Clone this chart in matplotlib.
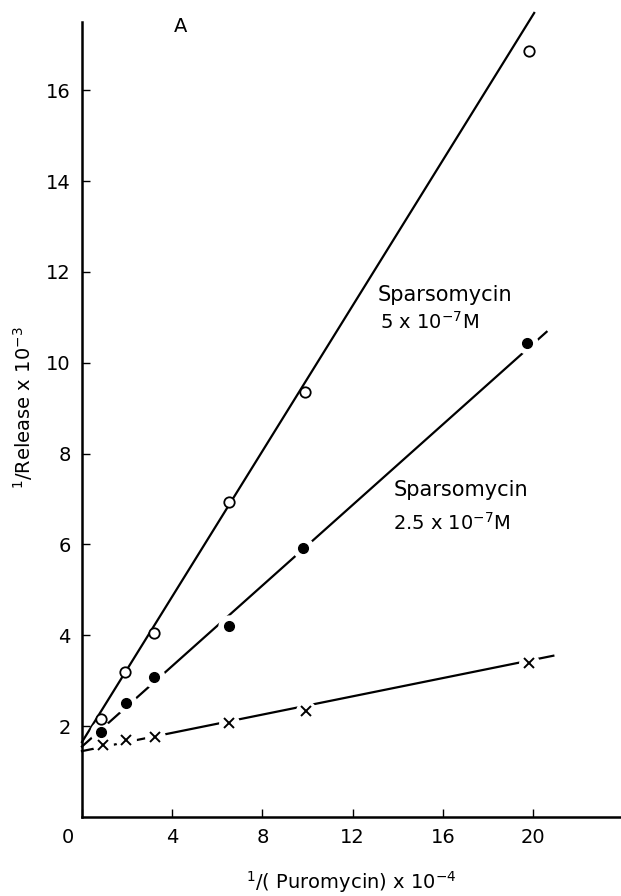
import matplotlib.pyplot as plt
import matplotlib.transforms as mtransforms
import numpy as np

# data (1/puromycin x 1e-4, 1/release x 1e-3)
x_open = [0.85, 1.9, 3.2, 6.5, 9.9, 19.8]
y_open = [2.15, 3.2, 4.05, 6.94, 9.36, 16.87]
x_filled = [0.85, 1.95, 3.2, 6.5, 9.8, 19.75]
y_filled = [1.88, 2.5, 3.08, 4.2, 5.92, 10.44]
x_cross = [0.93, 1.95, 3.24, 6.5, 9.95, 19.8]
y_cross = [1.58, 1.7, 1.76, 2.07, 2.33, 3.4]

# hand drawn fitted lines (start, end)
fit_open_x = [0.0, 20.05]
fit_open_y = [1.65, 17.7]
fit_filled_x = [0.0, 20.6]
fit_filled_y = [1.55, 10.68]
fit_cross_x = [0.0, 20.9]
fit_cross_y = [1.45, 3.55]

xticks = [0, 4, 8, 12, 16, 20]
yticks = [2, 4, 6, 8, 10, 12, 14, 16]

fig = plt.figure(figsize=(6.21, 8.96), dpi=100)
ax = fig.add_axes([0.132, 0.0882, 0.868, 0.8872])

# fitted lines
ax.plot(fit_open_x, fit_open_y, color='black', lw=1.6, zorder=2, clip_on=False)
ax.plot(fit_filled_x, fit_filled_y, color='black', lw=1.6, zorder=2, clip_on=False)
ax.plot(fit_cross_x, fit_cross_y, color='black', lw=1.6, zorder=2, clip_on=False)

# white halos to break the lines around the points
ax.plot(x_filled, y_filled, 'o', ms=16, color='white', mec='none', zorder=3, clip_on=False)
ax.plot(x_cross, y_cross, 'o', ms=15, color='white', mec='none', zorder=3, clip_on=False)

# points
ax.plot(x_open, y_open, 'o', ms=7.5, mfc='white', mec='black', mew=1.3, zorder=4, clip_on=False)
ax.plot(x_filled, y_filled, 'o', ms=7, color='black', zorder=4, clip_on=False)
ax.plot(x_cross, y_cross, 'x', ms=7, color='black', mew=1.4, zorder=4, clip_on=False)

ax.set_xlim(0, 23.9)
ax.set_ylim(0, 17.5)
ax.spines['top'].set_visible(False)
ax.spines['right'].set_visible(False)
ax.spines['left'].set_linewidth(1.8)
ax.spines['bottom'].set_linewidth(1.8)

ax.set_xticks(xticks)
ax.set_xticklabels([str(t) for t in xticks])
ax.set_yticks(yticks)
ax.tick_params(direction='in', length=6, width=1.0, labelsize=14, pad=8)

# "0" sits to the left of the origin
lbl0 = ax.get_xticklabels()[0]
lbl0.set_transform(lbl0.get_transform() + mtransforms.ScaledTranslation(-0.14, 0, fig.dpi_scale_trans))

ax.set_ylabel(r'$^{1}$/Release x 10$^{-3}$', fontsize=14)
ax.yaxis.set_label_coords(-0.088, 0.515)
ax.set_xlabel(r'$^{1}$/( Puromycin) x 10$^{-4}$', fontsize=14)
ax.xaxis.set_label_coords(0.5, -0.066)

ax.text(4.35, 17.4, 'A', fontsize=14, ha='center', va='center')
ax.text(13.1, 11.5, 'Sparsomycin', fontsize=15, ha='left', va='center')
ax.text(13.2, 10.9, r'5 x 10$^{-7}$M', fontsize=14, ha='left', va='center')
ax.text(13.8, 7.2, 'Sparsomycin', fontsize=15, ha='left', va='center')
ax.text(13.8, 6.47, r'2.5 x 10$^{-7}$M', fontsize=14, ha='left', va='center')

fig.savefig('out.png', dpi=100)
